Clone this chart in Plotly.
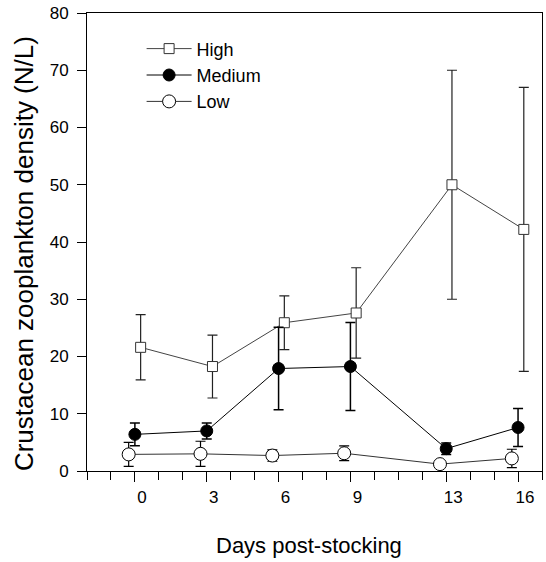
import plotly.graph_objects as go

days = [0, 3, 6, 9, 13, 16]
tick_labels = ["0", "3", "6", "9", "13", "16"]

high = [21.6, 18.25, 25.9, 27.6, 50.0, 42.2]
high_err = [5.7, 5.5, 4.7, 7.9, 20.0, 24.8]
medium = [6.4, 7.0, 17.9, 18.25, 3.9, 7.6]
medium_err = [2.0, 1.4, 7.2, 7.7, 1.0, 3.3]
low = [2.9, 3.0, 2.7, 3.1, 1.2, 2.2]
low_err = [2.1, 2.2, 1.0, 1.3, 0.5, 1.6]

# horizontal dodge of each series (in day units)
dodge = {"High": 0.24, "Medium": 0.0, "Low": -0.26}

FONT = "Liberation Sans, Arial, sans-serif"

fig = go.Figure()

fig.add_trace(go.Scatter(
    x=[d + dodge["High"] for d in days], y=high, name="High",
    mode="lines+markers",
    line=dict(color="#444444", width=1),
    marker=dict(symbol="square", size=10, color="white",
                line=dict(color="#333333", width=1)),
    error_y=dict(type="data", array=high_err, visible=True,
                 color="#222222", thickness=1.2, width=5),
))
fig.add_trace(go.Scatter(
    x=[d + dodge["Medium"] for d in days], y=medium, name="Medium",
    mode="lines+markers",
    line=dict(color="black", width=1),
    marker=dict(symbol="circle", size=12, color="black",
                line=dict(color="black", width=1)),
    error_y=dict(type="data", array=medium_err, visible=True,
                 color="black", thickness=1.5, width=5),
))
fig.add_trace(go.Scatter(
    x=[d + dodge["Low"] for d in days], y=low, name="Low",
    mode="lines+markers",
    line=dict(color="#333333", width=1),
    marker=dict(symbol="circle", size=13, color="white",
                line=dict(color="black", width=1)),
    error_y=dict(type="data", array=low_err, visible=True,
                 color="black", thickness=1.2, width=5),
))

fig.update_layout(
    width=546, height=562,
    margin=dict(l=87, r=4, t=13, b=91),
    paper_bgcolor="white", plot_bgcolor="white",
    font=dict(family=FONT, color="black"),
    showlegend=True,
    legend=dict(x=0.12, y=0.962, xanchor="left", yanchor="top",
                bgcolor="rgba(0,0,0,0)", font=dict(size=18, family=FONT),
                tracegroupgap=0, itemwidth=45),
    annotations=[
        dict(text="Crustacean zooplankton density (N/L)", textangle=-90,
             xref="paper", yref="paper", x=-0.138, y=0.474,
             xanchor="center", yanchor="middle", showarrow=False,
             font=dict(size=26, family=FONT)),
        dict(text="Days post-stocking",
             xref="paper", yref="paper", x=0.489, y=-0.163,
             xanchor="center", yanchor="middle", showarrow=False,
             font=dict(size=22, family=FONT)),
    ],
)

fig.update_xaxes(
    range=[-2, 17], showgrid=False, zeroline=False,
    showline=True, linecolor="black", linewidth=1, mirror=True,
    tickmode="array", tickvals=days, ticktext=tick_labels,
    ticks="outside", ticklen=10, tickwidth=1, tickcolor="black",
    ticklabelshift=7, ticklabelstandoff=1,
    tickfont=dict(size=17, family=FONT),
    minor=dict(tickmode="linear", tick0=0, dtick=1, ticks="outside",
               ticklen=8, tickwidth=1, tickcolor="black", showgrid=False),
)
fig.update_yaxes(
    range=[0, 80], showgrid=False, zeroline=False,
    showline=True, linecolor="black", linewidth=1, mirror=True,
    tickmode="linear", tick0=0, dtick=10,
    ticks="outside", ticklen=9, tickwidth=1, tickcolor="black",
    ticklabelstandoff=5,
    tickfont=dict(size=17, family=FONT),
)

fig.write_html("out.html")
